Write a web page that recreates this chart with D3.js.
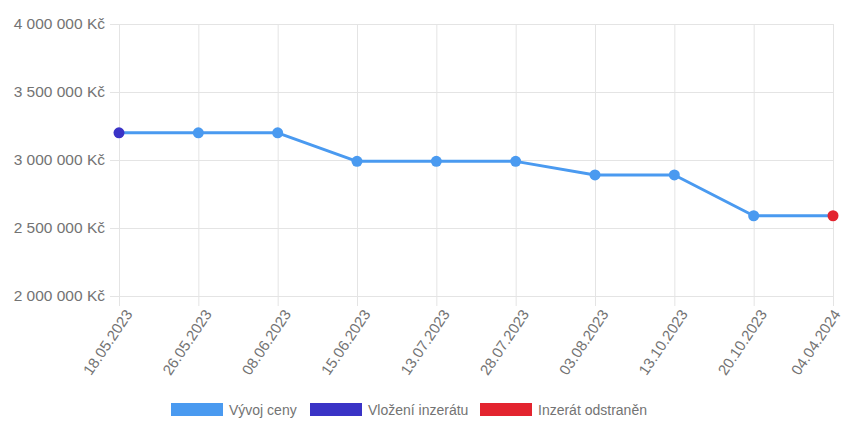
<!DOCTYPE html>
<html lang="cs">
<head>
<meta charset="utf-8">
<script src="https://cdn.jsdelivr.net/npm/d3@7"></script>
<style>
  html, body { margin: 0; padding: 0; background: #fff; }
  svg { display: block; font-family: "Liberation Sans", Arial, Helvetica, sans-serif; }
</style>
</head>
<body>
<svg id="chart" width="847" height="424"></svg>
<script>
// Price history of the listing
const dates = ["18.05.2023", "26.05.2023", "08.06.2023", "15.06.2023", "13.07.2023",
               "28.07.2023", "03.08.2023", "13.10.2023", "20.10.2023", "04.04.2024"];
const prices = [3200000, 3200000, 3200000, 2990000, 2990000,
                2990000, 2890000, 2890000, 2590000, 2590000];
const yTicks = [2000000, 2500000, 3000000, 3500000, 4000000];
const legendLabels = ["Vývoj ceny", "Vložení inzerátu", "Inzerát odstraněn"];
const colors = { line: "#4a9af0", start: "#3a33c6", end: "#e3242f" };

const svg = d3.select("#chart");
const W = 847, H = 424;
const m = { left: 119, right: 14, top: 24, bottom: 128 };

const czk = d3.formatLocale({
  decimal: ",", thousands: "\u00a0", grouping: [3], currency: ["", "\u00a0Kč"]
}).format("$,.0f");

const x = d3.scalePoint().domain(dates).range([m.left, W - m.right]);
const y = d3.scaleLinear().domain([2000000, 4000000]).range([H - m.bottom, m.top]);

const gridColor = "#e4e4e4";
const textColor = "#737373";

// horizontal grid + y ticks
const yAxis = svg.append("g")
  .attr("transform", `translate(${m.left},0)`)
  .call(d3.axisLeft(y).tickValues(yTicks).tickFormat(czk)
    .tickSize(-(W - m.right - m.left)).tickSizeOuter(0).tickPadding(14));
yAxis.select(".domain").remove();
yAxis.selectAll(".tick line").attr("stroke", gridColor).attr("x1", -9);
yAxis.selectAll(".tick text").attr("fill", textColor).attr("font-size", 15.5);

// vertical grid + x ticks (rotated labels, last one nudged inside the frame)
const xAxis = svg.append("g")
  .attr("transform", `translate(0,${H - m.bottom})`)
  .call(d3.axisBottom(x).tickSize(-(H - m.bottom - m.top)).tickSizeOuter(0));
xAxis.select(".domain").remove();
xAxis.selectAll(".tick line").attr("stroke", gridColor).attr("y1", 10);
xAxis.selectAll(".tick text")
  .attr("fill", textColor).attr("font-size", 15)
  .attr("text-anchor", "end")
  .attr("dy", null).attr("y", null)
  .attr("dominant-baseline", "central")
  .attr("transform", (d, i) => `translate(${i === dates.length - 1 ? 3 : 9},15) rotate(-56)`);

// price line
svg.append("path")
  .datum(prices)
  .attr("fill", "none")
  .attr("stroke", colors.line)
  .attr("stroke-width", 3)
  .attr("stroke-linejoin", "round")
  .attr("d", d3.line().x((d, i) => x(dates[i])).y(d => y(d)));

// points: first = listing added, last = listing removed
svg.append("g").selectAll("circle")
  .data(prices)
  .join("circle")
  .attr("cx", (d, i) => x(dates[i]))
  .attr("cy", d => y(d))
  .attr("r", 5.5)
  .attr("fill", (d, i) => i === 0 ? colors.start : i === prices.length - 1 ? colors.end : colors.line);

// legend
const legendColors = [colors.line, colors.start, colors.end];
const legendX = [171, 310, 480];
const lg = svg.append("g").attr("transform", "translate(0,403)");
legendLabels.forEach((t, i) => {
  lg.append("rect").attr("x", legendX[i]).attr("y", 0).attr("width", 52).attr("height", 13)
    .attr("fill", legendColors[i]);
  lg.append("text").attr("x", legendX[i] + 58).attr("y", 6.5)
    .attr("dominant-baseline", "central")
    .attr("font-size", 14).attr("fill", textColor).text(t);
});
</script>
</body>
</html>
